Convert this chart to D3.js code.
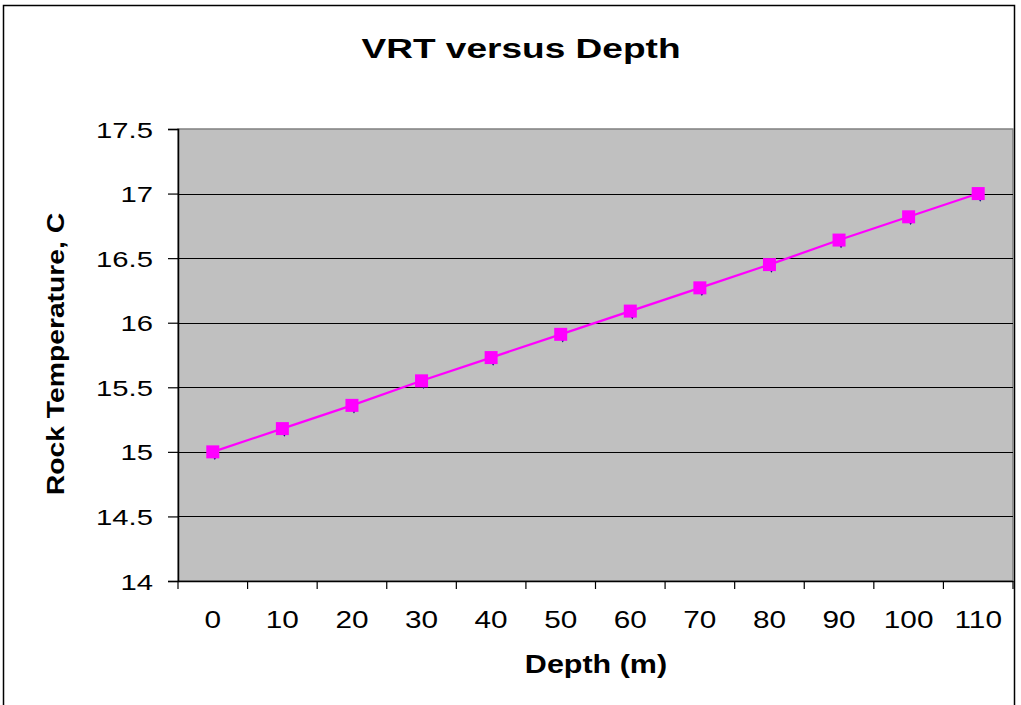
<!DOCTYPE html>
<html lang="en">
<head>
<meta charset="utf-8">
<title>VRT versus Depth</title>
<script src="https://cdn.jsdelivr.net/npm/d3@7"></script>
<style>
  body { margin: 0; background: #fff; }
  svg text { font-family: "Liberation Sans", Arial, sans-serif; fill: #000; }
</style>
</head>
<body>
<script>
// chart data
var depths = ["0", "10", "20", "30", "40", "50", "60", "70", "80", "90", "100", "110"];
var rockTemp = [15, 15.18, 15.36, 15.55, 15.73, 15.91, 16.09, 16.27, 16.45, 16.64, 16.82, 17];
var yTicks = [14, 14.5, 15, 15.5, 16, 16.5, 17, 17.5];

var W = 1021, H = 705;
var plot = { left: 178, top: 129, right: 1013, bottom: 581 };

var svg = d3.select("body").append("svg")
    .attr("width", W)
    .attr("height", H);

// outer chart border
svg.append("rect")
    .attr("x", 3.5).attr("y", 5.5)
    .attr("width", 1011).attr("height", 760)
    .attr("fill", "none")
    .attr("stroke", "#000")
    .attr("stroke-width", 1.5);

var x = d3.scaleBand()
    .domain(depths)
    .range([plot.left, plot.right]);

var y = d3.scaleLinear()
    .domain([14, 17.5])
    .range([plot.bottom, plot.top]);

// plot area
svg.append("rect")
    .attr("x", plot.left).attr("y", plot.top)
    .attr("width", plot.right - plot.left)
    .attr("height", plot.bottom - plot.top)
    .attr("fill", "#c0c0c0")
    .attr("stroke", "#808080")
    .attr("stroke-width", 1.5);

// gridlines
svg.append("g")
    .selectAll("line")
    .data(yTicks.slice(1, -1))
    .enter().append("line")
    .attr("x1", plot.left).attr("x2", plot.right)
    .attr("y1", function(d){ return Math.round(y(d)) + 0.5; })
    .attr("y2", function(d){ return Math.round(y(d)) + 0.5; })
    .attr("stroke", "#000")
    .attr("stroke-width", 1);

// y axis
var yAxis = svg.append("g")
    .attr("transform", "translate(" + plot.left + ",0)")
    .call(d3.axisLeft(y).tickValues(yTicks).tickSize(10).tickFormat(d3.format("")));
yAxis.select(".domain").attr("stroke", "#000").attr("stroke-width", 1.5);
yAxis.selectAll(".tick line").attr("stroke", "#000").attr("stroke-width", 1.2);
yAxis.selectAll(".tick text")
    .attr("x", 0).attr("dy", "0.36em")
    .attr("transform", "translate(-25,0) scale(1.3,1)")
    .style("font-size", "22.5px")
    .attr("text-anchor", "end");

// x axis, ticks between categories
var xAxis = svg.append("g")
    .attr("transform", "translate(0," + plot.bottom + ")")
    .call(d3.axisBottom(x).tickSize(0).tickSizeOuter(0));
xAxis.select(".domain").attr("stroke", "#000").attr("stroke-width", 1.5);
xAxis.selectAll(".tick text")
    .attr("y", 0).attr("dy", 0)
    .attr("transform", "translate(0,47) scale(1.24,1)")
    .style("font-size", "24px");

svg.append("g")
    .selectAll("line")
    .data(depths.concat(["end"]))
    .enter().append("line")
    .attr("x1", function(d, i){ return plot.left + i * x.bandwidth(); })
    .attr("x2", function(d, i){ return plot.left + i * x.bandwidth(); })
    .attr("y1", plot.bottom)
    .attr("y2", plot.bottom + 8)
    .attr("stroke", "#000")
    .attr("stroke-width", 1.2);

// series
var cx = function(d, i){ return x(depths[i]) + x.bandwidth() / 2; };

var line = d3.line()
    .x(cx)
    .y(function(d){ return y(d); });

// navy markers peeking out under the magenta ones
svg.append("g")
    .attr("transform", "translate(2,3)")
    .selectAll("path")
    .data(rockTemp)
    .enter().append("path")
    .attr("d", d3.symbol().type(d3.symbolDiamond).size(30))
    .attr("transform", function(d, i){ return "translate(" + cx(d, i) + "," + y(d) + ")"; })
    .attr("fill", "#000080");

svg.append("path")
    .datum(rockTemp)
    .attr("d", line)
    .attr("fill", "none")
    .attr("stroke", "#ff00ff")
    .attr("stroke-width", 2.2);

svg.append("g")
    .selectAll("rect")
    .data(rockTemp)
    .enter().append("rect")
    .attr("x", function(d, i){ return cx(d, i) - 6.5; })
    .attr("y", function(d){ return y(d) - 6.5; })
    .attr("width", 13).attr("height", 13)
    .attr("fill", "#ff00ff");

// titles
svg.append("text")
    .attr("transform", "translate(521,58) scale(1.3,1)")
    .attr("text-anchor", "middle")
    .style("font-size", "28.5px")
    .style("font-weight", "bold")
    .text("VRT versus Depth");

svg.append("text")
    .attr("transform", "translate(596,673) scale(1.22,1)")
    .attr("text-anchor", "middle")
    .style("font-size", "25px")
    .style("font-weight", "bold")
    .text("Depth (m)");

svg.append("text")
    .attr("transform", "translate(64,354) rotate(-90) scale(1.23,1)")
    .attr("text-anchor", "middle")
    .style("font-size", "23px")
    .style("font-weight", "bold")
    .text("Rock Temperature, C");
</script>
</body>
</html>
